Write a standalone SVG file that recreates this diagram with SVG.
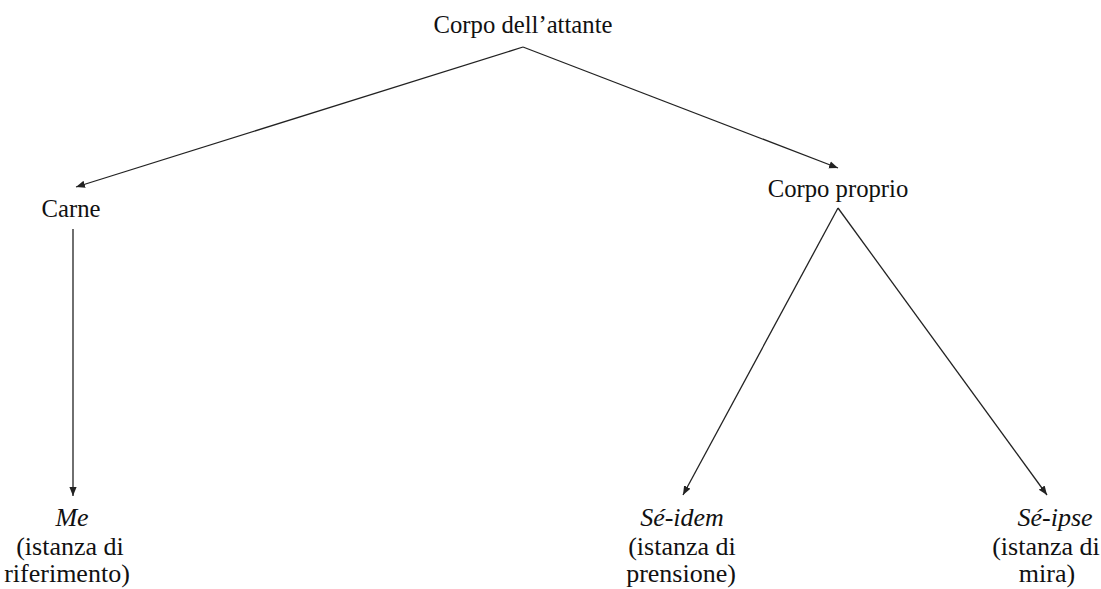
<svg xmlns="http://www.w3.org/2000/svg" width="1101" height="589" viewBox="0 0 1101 589">
<style>
text{font-family:"Liberation Serif","Times New Roman",serif;font-size:24.7px;fill:#111;text-anchor:middle}
.b text{font-size:26px}
.it{font-style:italic}
.c{stroke:#222;stroke-width:1.3;fill:none}
</style>
<defs>
<marker id="ah" viewBox="0 0 10 10" refX="10" refY="5" markerWidth="9" markerHeight="9" markerUnits="userSpaceOnUse" orient="auto">
<path d="M0,1 L10,5 L0,9 z" fill="#222"/>
</marker>
</defs>
<rect width="1101" height="589" fill="#fff"/>
<g id="connectors">
<path class="c" d="M523,47 L76,187" marker-end="url(#ah)"/>
<path class="c" d="M523,47 L838,168" marker-end="url(#ah)"/>
<path class="c" d="M73,229 L73,496" marker-end="url(#ah)"/>
<path class="c" d="M838,208 L683,495" marker-end="url(#ah)"/>
<path class="c" d="M838,208 L1047,495" marker-end="url(#ah)"/>
</g>
<g id="n-corpo-attante"><text x="523" y="33">Corpo dell’attante</text></g>
<g id="n-carne"><text x="71" y="217">Carne</text></g>
<g id="n-corpo-proprio"><text x="838" y="197">Corpo proprio</text></g>
<g id="n-me" class="b"><text x="72" y="526" class="it">Me</text><text x="70" y="555">(istanza di</text><text x="67" y="582">riferimento)</text></g>
<g id="n-se-idem" class="b"><text x="682" y="526" class="it">Sé-idem</text><text x="682" y="555">(istanza di</text><text x="681" y="582">prensione)</text></g>
<g id="n-se-ipse" class="b"><text x="1055" y="526" class="it">Sé-ipse</text><text x="1046" y="555">(istanza di</text><text x="1047" y="582">mira)</text></g>
</svg>
